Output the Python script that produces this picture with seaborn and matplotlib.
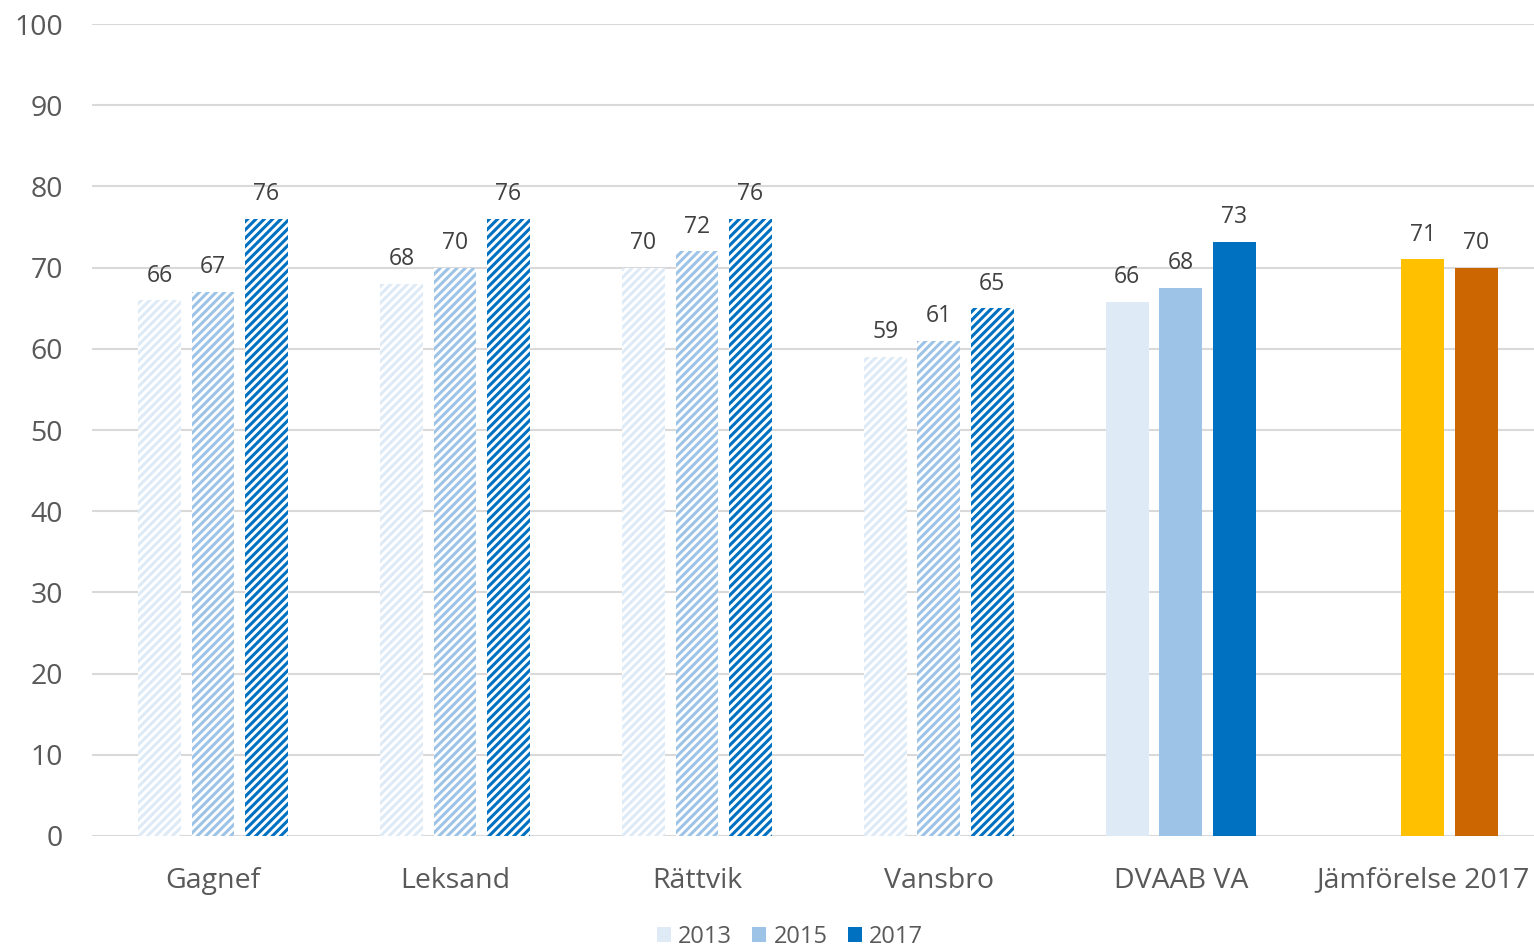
import pandas as pd
import numpy as np
import matplotlib
matplotlib.use("Agg")
import matplotlib.pyplot as plt
from matplotlib.patches import Patch
import seaborn as sns

# values
categories = ['Gagnef', 'Leksand', 'Rättvik', 'Vansbro', 'DVAAB VA', 'Jämförelse 2017']
years = ['2013', '2015', '2017']
v2013 = [66, 68, 70, 59, 65.8, np.nan]
v2015 = [67, 70, 72, 61, 67.5, 71]
v2017 = [76, 76, 76, 65, 73.2, 70]

year_colors = ['#DEEBF7', '#9DC3E6', '#0070C0']
jamf_colors = {'2015': '#FFC000', '2017': '#CC6600'}
text_col = '#595959'

sns.set_style("white")
plt.rcParams['font.family'] = ['Open Sans', 'DejaVu Sans']
plt.rcParams['hatch.linewidth'] = 2.2

rows = []
for yr, vals in zip(years, [v2013, v2015, v2017]):
    for cat, v in zip(categories, vals):
        if not np.isnan(v):
            rows.append({'Kommun': cat, 'year': yr, 'value': v})
df = pd.DataFrame(rows)

fig = plt.figure(figsize=(15.34, 9.46), dpi=100)
ax = fig.add_axes([0.06, 0.1163, 0.94, 0.8583])

sns.barplot(data=df, x='Kommun', y='value', hue='year', order=categories,
            hue_order=years, palette=year_colors, saturation=1, width=0.663, gap=0.2,
            legend=False, ax=ax, zorder=3)

# hatched bars for the municipalities, solid for DVAAB, own colours for the comparison
for hi, cont in enumerate(ax.containers):
    yr = years[hi]
    for bar in cont:
        ci = int(round(bar.get_x() + bar.get_width() / 2))
        if ci < 4:
            bar.set_facecolor('white')
            bar.set_edgecolor(year_colors[hi])
            bar.set_hatch('////')
            bar.set_linewidth(0)
        elif ci == 5:
            bar.set_facecolor(jamf_colors[yr])
            bar.set_linewidth(0)
        else:
            bar.set_linewidth(0)
    ax.bar_label(cont, fmt='%.0f', padding=9, fontsize=16.5, color='#404040')

ax.set_ylim(0, 100)
ax.set_yticks(range(0, 101, 10))
ax.set_xlim(-0.5, 5.46)
ax.yaxis.grid(True, color='#D9D9D9', linewidth=1.5, zorder=0)
ax.set_axisbelow(True)
sns.despine(ax=ax, left=True, bottom=True)
ax.tick_params(axis='both', length=0, labelsize=20.5, labelcolor=text_col)
ax.tick_params(axis='y', pad=21)
ax.tick_params(axis='x', pad=22)
ax.set_xlabel('')
ax.set_ylabel('')

handles = [Patch(facecolor=c, edgecolor='none') for c in year_colors]
fig.legend(handles, years, loc='center', bbox_to_anchor=(0.515, 0.01), ncol=3,
           frameon=False, fontsize=17, labelcolor=text_col, handlelength=0.6,
           handleheight=0.6, handletextpad=0.3, columnspacing=0.85)

fig.savefig('out.png', dpi=100)
